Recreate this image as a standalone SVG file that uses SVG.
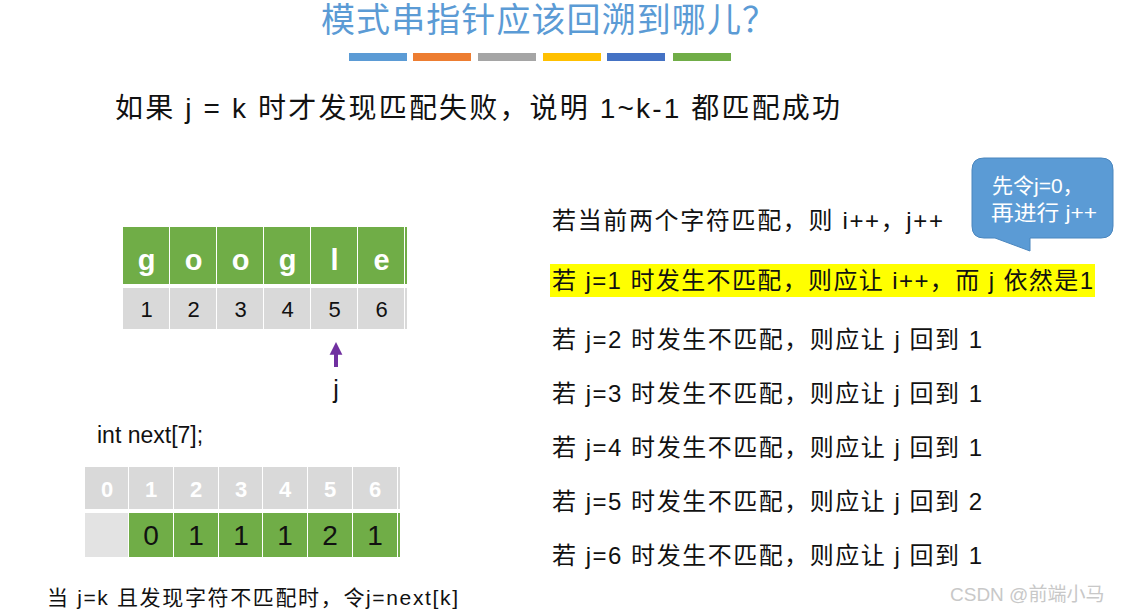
<svg xmlns="http://www.w3.org/2000/svg" width="1125" height="613" viewBox="0 0 1125 613">
<style>
text{font-family:"Liberation Sans","Noto Sans CJK SC",sans-serif;}
.body{font-size:24px;fill:#111;}
.gcell{fill:#70AD47;}
.ncell{fill:#D9D9D9;}
.letter{font-size:29px;font-weight:bold;fill:#fff;text-anchor:middle;}
.num{font-size:22px;fill:#111;text-anchor:middle;}
.idx{font-size:22px;font-weight:bold;fill:#fff;text-anchor:middle;}
.val{font-size:28px;fill:#111;text-anchor:middle;}
</style>
<defs>
<marker id="ah" viewBox="0 0 10 10" refX="3" refY="5" markerWidth="3.2" markerHeight="3.6" orient="auto" markerUnits="strokeWidth">
<path d="M0,0 L10,5 L0,10 z" fill="#7030A0"/>
</marker>
</defs>
<rect width="1125" height="613" fill="#fff"/>
<g id="title">
<text x="321" y="32" font-size="34" fill="#5B9BD5" textLength="455" lengthAdjust="spacing">模式串指针应该回溯到哪儿？</text>
<rect x="349" y="53" width="58" height="8" fill="#5B9BD5"/>
<rect x="413" y="53" width="58" height="8" fill="#ED7D31"/>
<rect x="478" y="53" width="58" height="8" fill="#A5A5A5"/>
<rect x="543" y="53" width="58" height="8" fill="#FFC000"/>
<rect x="607" y="53" width="58" height="8" fill="#4472C4"/>
<rect x="673" y="53" width="58" height="8" fill="#70AD47"/>
</g>
<g id="subtitle">
<text x="115" y="118" font-size="28" fill="#111" textLength="725" lengthAdjust="spacing">如果 j = k 时才发现匹配失败，说明 1~k-1 都匹配成功</text>
</g>
<g id="pattern">
<rect class="gcell" x="123" y="227" width="46" height="57"/>
<rect class="gcell" x="170" y="227" width="46" height="57"/>
<rect class="gcell" x="217" y="227" width="46" height="57"/>
<rect class="gcell" x="264" y="227" width="46" height="57"/>
<rect class="gcell" x="311" y="227" width="46" height="57"/>
<rect class="gcell" x="358" y="227" width="46" height="57"/>
<rect class="gcell" x="405" y="227" width="2" height="57"/>
<text class="letter" x="146.5" y="270">g</text>
<text class="letter" x="193.5" y="270">o</text>
<text class="letter" x="240.5" y="270">o</text>
<text class="letter" x="287.5" y="270">g</text>
<text class="letter" x="334.5" y="270">l</text>
<text class="letter" x="381.5" y="270">e</text>
<rect class="ncell" x="123" y="288" width="46" height="41"/>
<rect class="ncell" x="170" y="288" width="46" height="41"/>
<rect class="ncell" x="217" y="288" width="46" height="41"/>
<rect class="ncell" x="264" y="288" width="46" height="41"/>
<rect class="ncell" x="311" y="288" width="46" height="41"/>
<rect class="ncell" x="358" y="288" width="46" height="41"/>
<rect class="ncell" x="405" y="288" width="2" height="41"/>
<text class="num" x="146.5" y="317">1</text>
<text class="num" x="193.5" y="317">2</text>
<text class="num" x="240.5" y="317">3</text>
<text class="num" x="287.5" y="317">4</text>
<text class="num" x="334.5" y="317">5</text>
<text class="num" x="381.5" y="317">6</text>
</g>
<g id="connectors">
<line x1="336" y1="367" x2="336" y2="351" stroke="#7030A0" stroke-width="4" marker-end="url(#ah)"/>
</g>
<g id="j-label">
<text x="336" y="398" font-size="25" fill="#111" text-anchor="middle">j</text>
</g>
<g id="next-decl">
<text x="97" y="443" font-size="23" fill="#111">int next[7];</text>
</g>
<g id="next-array">
<rect class="ncell" x="85" y="467" width="43" height="42"/>
<rect class="ncell" x="129" y="467" width="44" height="42"/>
<rect class="ncell" x="174" y="467" width="44" height="42"/>
<rect class="ncell" x="219" y="467" width="43" height="42"/>
<rect class="ncell" x="263" y="467" width="44" height="42"/>
<rect class="ncell" x="308" y="467" width="44" height="42"/>
<rect class="ncell" x="353" y="467" width="44" height="42"/>
<rect class="ncell" x="398" y="467" width="2" height="42"/>
<text class="idx" x="107" y="497">0</text>
<text class="idx" x="151" y="497">1</text>
<text class="idx" x="196" y="497">2</text>
<text class="idx" x="241" y="497">3</text>
<text class="idx" x="285" y="497">4</text>
<text class="idx" x="330" y="497">5</text>
<text class="idx" x="375" y="497">6</text>
<rect x="85" y="513" width="43" height="44" fill="#E3E3E3"/>
<rect class="gcell" x="129" y="513" width="44" height="44"/>
<rect class="gcell" x="174" y="513" width="44" height="44"/>
<rect class="gcell" x="219" y="513" width="43" height="44"/>
<rect class="gcell" x="263" y="513" width="44" height="44"/>
<rect class="gcell" x="308" y="513" width="44" height="44"/>
<rect class="gcell" x="353" y="513" width="44" height="44"/>
<rect class="gcell" x="398" y="513" width="2" height="44"/>
<text class="val" x="151" y="545">0</text>
<text class="val" x="196" y="545">1</text>
<text class="val" x="241" y="545">1</text>
<text class="val" x="285" y="545">1</text>
<text class="val" x="330" y="545">2</text>
<text class="val" x="375" y="545">1</text>
</g>
<g id="rule-note">
<text x="47" y="605" font-size="21" fill="#111" textLength="411" lengthAdjust="spacing">当 j=k 且发现字符不匹配时，令j=next[k]</text>
</g>
<g id="callout">
<path d="M984,158 H1101 Q1113,158 1113,170 V226 Q1113,238 1101,238 H1030 L1030,251 L995,238 H984 Q972,238 972,226 V170 Q972,158 984,158 Z" fill="#5B9BD5" stroke="#4A86BE" stroke-width="1"/>
<text x="992" y="193" font-size="21" fill="#fff">先令j=0，</text>
<text x="991" y="220" font-size="21" fill="#fff" textLength="106" lengthAdjust="spacingAndGlyphs">再进行 j++</text>
</g>
<g id="rules">
<text class="body" x="552" y="229" textLength="391" lengthAdjust="spacing">若当前两个字符匹配，则 i++，j++</text>
<rect x="550" y="264" width="545" height="33" fill="#FFFF00"/>
<text class="body" x="552" y="289" textLength="541" lengthAdjust="spacing">若 j=1 时发生不匹配，则应让 i++，而 j 依然是1</text>
<text class="body" x="552" y="348" textLength="430" lengthAdjust="spacing">若 j=2 时发生不匹配，则应让 j 回到 1</text>
<text class="body" x="552" y="402" textLength="430" lengthAdjust="spacing">若 j=3 时发生不匹配，则应让 j 回到 1</text>
<text class="body" x="552" y="456" textLength="430" lengthAdjust="spacing">若 j=4 时发生不匹配，则应让 j 回到 1</text>
<text class="body" x="552" y="510" textLength="430" lengthAdjust="spacing">若 j=5 时发生不匹配，则应让 j 回到 2</text>
<text class="body" x="552" y="564" textLength="430" lengthAdjust="spacing">若 j=6 时发生不匹配，则应让 j 回到 1</text>
</g>
<g id="watermark">
<text x="950" y="601" font-size="19" fill="#C8C8C8">CSDN @前端小马</text>
</g>
</svg>
